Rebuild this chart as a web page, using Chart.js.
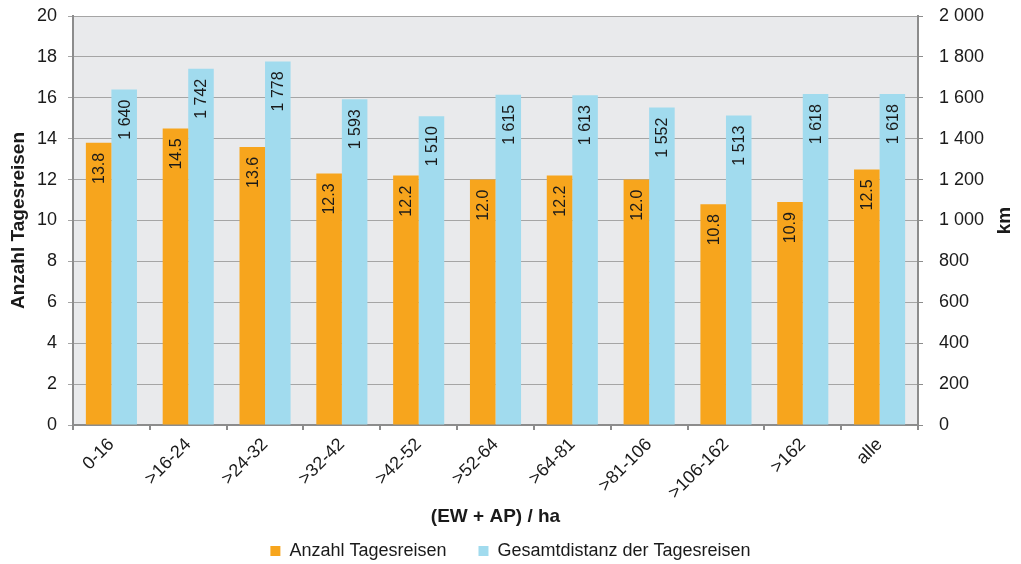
<!DOCTYPE html>
<html>
<head>
<meta charset="utf-8">
<script src="https://cdn.jsdelivr.net/npm/chart.js@4.4.1/dist/chart.umd.min.js"></script>
<style>
  html, body { margin: 0; padding: 0; background: #ffffff; }
  #wrap { width: 1021px; height: 564px; position: relative; }
</style>
</head>
<body>
<div id="wrap"><canvas id="chart"></canvas></div>
<script>
// Size classes (EW + AP) in ha
const categories = ['0-16', '>16-24', '>24-32', '>32-42', '>42-52', '>52-64', '>64-81', '>81-106', '>106-162', '>162', 'alle'];
// Number of day trips (left axis)
const anzahlTagesreisen = [13.8, 14.5, 13.6, 12.3, 12.2, 12.0, 12.2, 12.0, 10.8, 10.9, 12.5];
// Total distance of day trips in km (right axis)
const gesamtdistanz = [1640, 1742, 1778, 1593, 1510, 1615, 1613, 1552, 1513, 1618, 1618];
// Axis tick values
const leftTicks = [0, 2, 4, 6, 8, 10, 12, 14, 16, 18, 20];
const rightTicks = [0, 200, 400, 600, 800, 1000, 1200, 1400, 1600, 1800, 2000];

const FONT = "'Liberation Sans', Arial, sans-serif";
const TEXT = '#1a1a1a';
const ORANGE = '#f7a51d';
const BLUE = '#a1dbee';
const AXIS = '#8c8c8c';
const GRID = '#a5a5a5';

// thousands separated by a space: 1 640
const fmtThousands = v => String(Math.round(v)).replace(/\B(?=(\d{3})+(?!\d))/g, ' ');
const fmtOneDecimal = v => v.toFixed(1);

const plotBackground = {
  id: 'plotBackground',
  beforeDraw(chart) {
    const { ctx, chartArea: a } = chart;
    ctx.save();
    ctx.fillStyle = '#e9eaec';
    ctx.fillRect(a.left, a.top, a.right - a.left, a.bottom - a.top);
    ctx.restore();
  }
};

// vertical value labels inside the top of each bar
const barLabels = {
  id: 'barLabels',
  afterDatasetsDraw(chart) {
    const { ctx } = chart;
    ctx.save();
    ctx.font = '16px ' + FONT;
    ctx.fillStyle = TEXT;
    ctx.textAlign = 'right';
    ctx.textBaseline = 'middle';
    chart.data.datasets.forEach((ds, di) => {
      const meta = chart.getDatasetMeta(di);
      meta.data.forEach((bar, i) => {
        const txt = ds.labelFormat(ds.data[i]);
        ctx.save();
        ctx.translate(bar.x, bar.y + 10);
        ctx.rotate(-Math.PI / 2);
        ctx.fillText(txt, 0, 1);
        ctx.restore();
      });
    });
    ctx.restore();
  }
};

// right axis title, read bottom to top
const rightTitle = {
  id: 'rightTitle',
  afterDraw(chart) {
    const { ctx, chartArea: a } = chart;
    ctx.save();
    ctx.font = 'bold 19px ' + FONT;
    ctx.fillStyle = TEXT;
    ctx.textAlign = 'center';
    ctx.textBaseline = 'middle';
    ctx.translate(1005, (a.top + a.bottom) / 2);
    ctx.rotate(-Math.PI / 2);
    ctx.fillText('km', 0, 0);
    ctx.restore();
  }
};

const setTicks = values => scale => { scale.ticks = values.map(v => ({ value: v })); };
const fixVertical = width => scale => {
  scale.width = width;
  scale.paddingTop = 0;
  scale.paddingBottom = 0;
};

new Chart(document.getElementById('chart'), {
  type: 'bar',
  data: {
    labels: categories,
    datasets: [
      {
        label: 'Anzahl Tagesreisen',
        data: anzahlTagesreisen,
        backgroundColor: ORANGE,
        yAxisID: 'y',
        labelFormat: fmtOneDecimal
      },
      {
        label: 'Gesamtdistanz der Tagesreisen',
        data: gesamtdistanz,
        backgroundColor: BLUE,
        yAxisID: 'y1',
        labelFormat: fmtThousands
      }
    ]
  },
  options: {
    responsive: true,
    maintainAspectRatio: false,
    animation: false,
    devicePixelRatio: 1,
    categoryPercentage: 0.665,
    barPercentage: 1.0,
    layout: { padding: { top: 16, left: 0, right: 0, bottom: -6 } },
    plugins: {
      tooltip: { enabled: false },
      legend: {
        position: 'bottom',
        labels: {
          boxWidth: 10,
          boxHeight: 10,
          padding: 32,
          color: TEXT,
          font: { family: FONT, size: 18 }
        }
      }
    },
    scales: {
      x: {
        offset: true,
        grid: { offset: true, drawOnChartArea: false, drawTicks: true, tickLength: 5, color: AXIS, lineWidth: 2 },
        border: { display: true, color: AXIS, width: 2 },
        ticks: { color: TEXT, font: { family: FONT, size: 18 }, minRotation: 45, maxRotation: 45, padding: 4, autoSkip: false },
        title: { display: true, text: '(EW + AP) / ha', color: TEXT, font: { family: FONT, size: 19, weight: 'bold' }, padding: { top: 0, bottom: -18 } },
        afterFit(scale) { scale.height = 85; scale.paddingLeft = 0; scale.paddingRight = 0; }
      },
      y: {
        position: 'left',
        min: 0, max: 20,
        afterBuildTicks: setTicks(leftTicks),
        grid: { color: GRID, lineWidth: 1, drawTicks: true, tickLength: 5 },
        border: { display: true, color: AXIS, width: 2 },
        ticks: { color: TEXT, font: { family: FONT, size: 18 }, padding: 11, callback: v => String(v) },
        title: { display: true, text: 'Anzahl Tagesreisen', color: TEXT, font: { family: FONT, size: 19, weight: 'bold' }, padding: { top: 7, bottom: 0 } },
        afterFit: fixVertical(73)
      },
      y1: {
        position: 'right',
        min: 0, max: 2000,
        afterBuildTicks: setTicks(rightTicks),
        grid: { drawOnChartArea: false, color: AXIS, lineWidth: 1, drawTicks: true, tickLength: 5 },
        border: { display: true, color: AXIS, width: 2 },
        ticks: { color: TEXT, font: { family: FONT, size: 18 }, padding: 16, callback: v => fmtThousands(v) },
        afterFit: fixVertical(103)
      }
    }
  },
  plugins: [plotBackground, barLabels, rightTitle]
});
</script>
</body>
</html>
